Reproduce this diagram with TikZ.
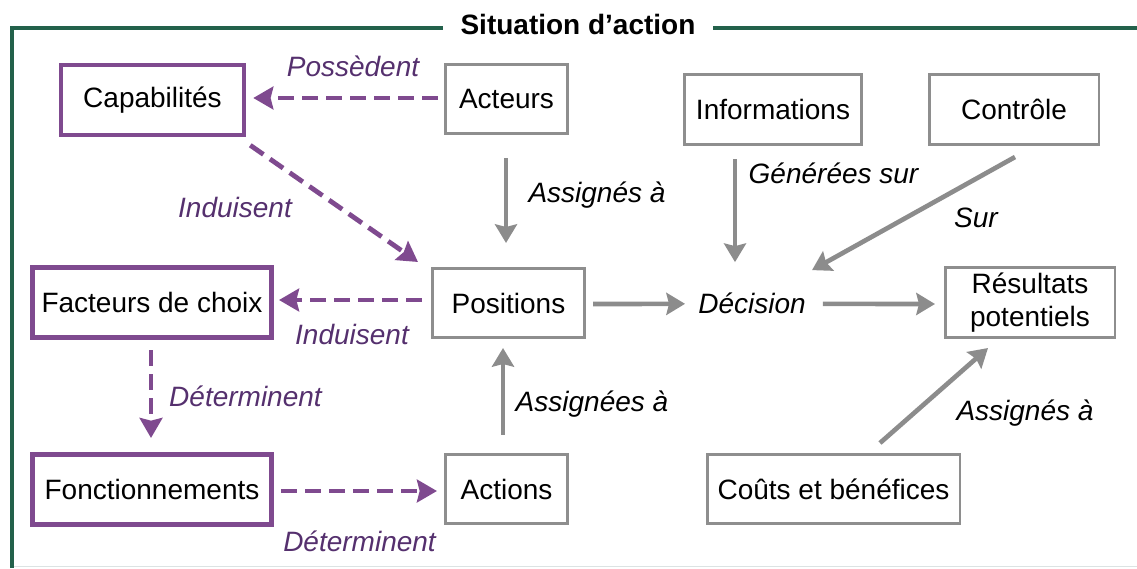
\documentclass[tikz,border=0pt]{standalone}
\usepackage{fontspec}
\setmainfont{Liberation Sans}
\usetikzlibrary{arrows.meta,calc}
\definecolor{frameGreen}{HTML}{23614B}
\definecolor{purpLine}{HTML}{7F4A8F}
\definecolor{purpText}{HTML}{55306E}
\definecolor{grayLine}{HTML}{8C8C8C}
\definecolor{grayBox}{HTML}{8E8E8E}
\definecolor{faintLine}{HTML}{DCE3E3}
\tikzset{
  txt/.style={font=\fontsize{21}{25}\selectfont},
  graybox/.style={txt, draw=grayBox, line width=1.9pt, inner sep=0pt, align=center},
  purpbox/.style={txt, draw=purpLine, line width=3.4pt, inner sep=0pt, align=center},
  garrow/.style={draw=grayLine, line width=3.5pt, -{Stealth[length=14pt,width=16.5pt,inset=2pt]}},
  parrow/.style={draw=purpLine, line width=3.6pt, dash pattern=on 12pt off 6pt, -{Stealth[length=15pt,width=17pt,inset=2pt]}},
  plabel/.style={txt, font=\fontsize{21}{25}\selectfont\itshape, text=purpText, anchor=base, inner sep=0pt},
  blabel/.style={txt, font=\fontsize{21}{25}\selectfont\itshape, text=black, anchor=base, inner sep=0pt},
}
\begin{document}
\begin{tikzpicture}[x=0.75pt,y=-0.75pt]
\useasboundingbox (0,0) rectangle (1137,568);
% frame
\draw[faintLine, line width=1.2pt] (12,566.5) -- (1137,566.5);
\draw[frameGreen, line width=3.5pt] (12,568) -- (12,28) -- (1137,28);
\node[fill=white, inner xsep=13pt, inner ysep=2pt, anchor=base, font=\fontsize{21}{25}\selectfont\bfseries] (title) at (578,34) {Situation d’action};

% boxes
\node[purpbox, minimum width=183*0.75pt, minimum height=70*0.75pt] (cap) at (152.5,100) {Capabilités};
\node[graybox, minimum width=122.5*0.75pt, minimum height=69.5*0.75pt] (act) at (506.5,99) {Acteurs};
\node[graybox, minimum width=177.5*0.75pt, minimum height=70.5*0.75pt] (inf) at (773,109.5) {Informations};
\node[graybox, minimum width=169.5*0.75pt, minimum height=70.5*0.75pt] (ctl) at (1014,109.5) {Contrôle};
\node[purpbox, minimum width=239.5*0.75pt, minimum height=70.5*0.75pt] (fac) at (152,302.5) {Facteurs de choix};
\node[purpbox, minimum width=239.5*0.75pt, minimum height=70.5*0.75pt] (fon) at (152,489.5) {Fonctionnements};
\node[graybox, minimum width=152.5*0.75pt, minimum height=69.5*0.75pt] (pos) at (508.5,303) {Positions};
\node[graybox, minimum width=122.5*0.75pt, minimum height=69.5*0.75pt] (acs) at (506.5,489) {Actions};
\node[graybox, minimum width=252.5*0.75pt, minimum height=69.5*0.75pt] (cou) at (833.5,489) {Coûts et bénéfices};
\node[graybox, minimum width=169.5*0.75pt, minimum height=70.5*0.75pt, font=\fontsize{21}{24.5}\selectfont] (res) at (1030,302.5) {Résultats\\potentiels};
\node[blabel, anchor=base] (dec) at (752,313) {Décision};

% gray arrows
\draw[garrow] ($(act.south)+(-0.5,23)$) -- ($(pos.north)+(-2.5,-24)$);
\draw[garrow] ($(acs.north)+(-3.5,-18)$) -- ($(pos.south)+(-5.5,9)$);
\draw[garrow] ($(pos.east)+(7,1)$) -- ($(dec.west)+(-13,1)$);
\draw[garrow] ($(dec.east)+(17,1)$) -- ($(res.west)+(-9,1.5)$);
\draw[garrow] ($(inf.south)+(-38,13)$) -- ($(dec.north)+(-17,-30)$);
\draw[garrow] ($(ctl.south)+(1,11)$) -- ($(dec.north)+(60,-22)$);
\draw[garrow] ($(cou.north)+(46.5,-10)$) -- ($(res.south)+(-42,9)$);

% purple arrows
\draw[parrow] ($(act.west)+(-6,-1)$) -- ($(cap.east)+(7,-2)$);
\draw[parrow] ($(cap.south east)+(4,8)$) -- ($(pos.north west)+(-13,-5)$);
\draw[parrow] ($(pos.west)+(-9,-3)$) -- ($(fac.east)+(5,-2.5)$);
\draw[parrow] ($(fac.south)+(-1,10)$) -- ($(fon.north)+(-1,-14)$);
\draw[parrow] ($(fon.east)+(7,1.5)$) -- ($(acs.west)+(-7,2)$);

% labels
\node[plabel] (l1) at (353,76) {Possèdent};
\node[plabel] (l2) at (235,217) {Induisent};
\node[plabel] (l3) at (352,344) {Induisent};
\node[plabel] (l4) at (245.5,406) {Déterminent};
\node[plabel] (l5) at (359.5,551) {Déterminent};
\node[blabel] (l6) at (597,202) {Assignés à};
\node[blabel] (l7) at (833.5,183) {Générées sur};
\node[blabel] (l8) at (976,227) {Sur};
\node[blabel] (l9) at (592,411) {Assignées à};
\node[blabel] (l10) at (1025,420) {Assignés à};
\end{tikzpicture}
\end{document}
